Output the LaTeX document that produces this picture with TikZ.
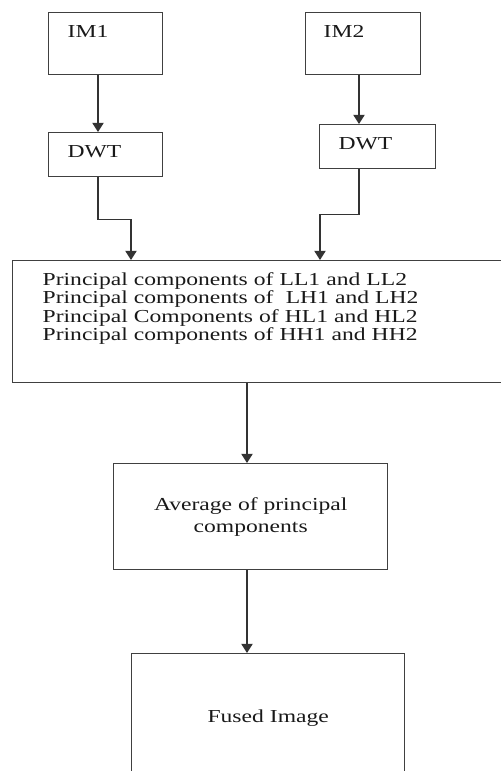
\documentclass[tikz,border=0pt]{standalone}
\usepackage{fontspec}
\newfontfamily\widefont[FakeStretch=1.29]{Liberation Serif}
\usetikzlibrary{arrows.meta}

\begin{document}
\begin{tikzpicture}[x=0.25mm, y=-0.25mm,
  box/.style={draw=black!75, line width=1pt, rectangle, anchor=north west,
    inner ysep=0pt, align=left, text=black!90,
    font=\widefont\fontsize{13}{10.8}\selectfont},
  flow/.style={draw=black!80, line width=1pt, -{Triangle[width=8pt, length=6.5pt]}}]
  \useasboundingbox (0,0) rectangle (501,771);
  \clip (0,0) rectangle (501,771);

  % inputs
  \node[box, inner xsep=4.75mm, text width=19mm, text height=6.25mm, text depth=9.25mm] (im1) at (48,12) {IM1};
  \node[box, inner xsep=4.5mm, text width=19.75mm, text height=6.25mm, text depth=9.25mm] (im2) at (305,12) {IM2};

  % wavelet transforms
  \node[box, inner xsep=4.75mm, text width=19mm, text height=6.25mm, text depth=4.75mm] (dwt1) at (48,132) {DWT};
  \node[box, inner xsep=4.75mm, text width=19.5mm, text height=6.25mm, text depth=4.75mm] (dwt2) at (319,124) {DWT};

  % principal components (runs off the right edge)
  \node[box, inner xsep=7.5mm, text width=110mm, text height=6.25mm, text depth=24.25mm] (pca) at (12,260)
    {Principal components of LL1 and LL2\\
     Principal components of~ LH1 and LH2\\
     Principal Components of HL1 and HL2\\
     Principal components of HH1 and HH2};

  % average and output
  \node[box, align=center, inner xsep=0pt, minimum width=68.5mm, minimum height=26.5mm,
    font=\widefont\fontsize{13}{15.5}\selectfont] (avg) at (113,463)
    {Average of principal\\components};
  \node[box, align=center, inner xsep=0pt, text width=68.25mm, text height=17.25mm, text depth=13.75mm] (fused) at (131,653)
    {Fused Image};

  % connector columns
  \coordinate (cl) at (98,0);
  \coordinate (cr) at (359,0);
  \coordinate (ml) at (131,0);
  \coordinate (mr) at (320,0);
  \coordinate (cm) at (247,0);

  \draw[flow] (im1.south -| cl) -- (dwt1.north -| cl);
  \draw[flow] (im2.south -| cr) -- (dwt2.north -| cr);
  \draw[flow] (dwt1.south -| cl) -- ++(0,42) -| (pca.north -| ml);
  \draw[flow] (dwt2.south -| cr) -- ++(0,45) -| (pca.north -| mr);
  \draw[flow] (pca.south -| cm) -- (avg.north -| cm);
  \draw[flow] (avg.south -| cm) -- (fused.north -| cm);
\end{tikzpicture}
\end{document}
